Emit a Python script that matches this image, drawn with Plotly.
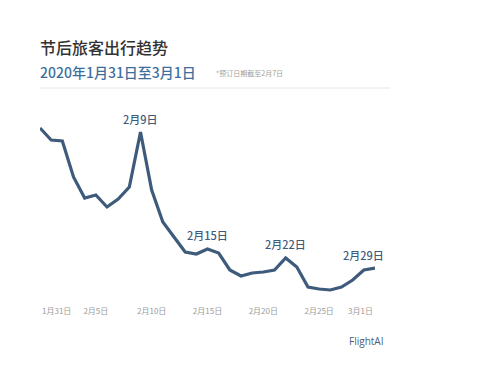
import plotly.graph_objects as go
import pandas as pd

dates = pd.date_range("2020-01-31", "2020-03-01", freq="D")
index_values = [172, 160, 159, 123, 102, 105, 93, 101, 113, 168, 110, 78, 63, 48, 46,
                51, 47, 30, 24, 27, 28, 30, 42, 33, 13, 11, 10, 13, 20, 30, 32]
tick_dates = ["2020-01-31", "2020-02-05", "2020-02-10", "2020-02-15", "2020-02-20", "2020-02-25", "2020-03-01"]
tick_labels = ["1月31日", "2月5日", "2月10日", "2月15日", "2月20日", "2月25日", "3月1日"]
callout_dates = ["2020-02-09", "2020-02-15", "2020-02-22", "2020-02-29"]
callout_labels = ["2月9日", "2月15日", "2月22日", "2月29日"]

line_color = "#3f5b7c"
font = "Noto Sans CJK SC"

# page body has an 8px margin; figure is sized to fit the window
OFF = 8
W, H = 477 - OFF, 373 - OFF
L, T = 40 - OFF, 100 - OFF           # plot area left/top in figure px
PW, PH = 375 - 40, 295 - 100          # plot area size
R, B = W - L - PW, H - T - PH

def px(ref_x):
    return (ref_x - 40) / PW

def py(ref_y):
    return (295 - ref_y) / PH

fig = go.Figure()
fig.add_trace(go.Scatter(x=dates, y=index_values, mode="lines",
                         line=dict(color=line_color, width=3.2), hoverinfo="skip"))

val_by_date = dict(zip([d.strftime("%Y-%m-%d") for d in dates], index_values))
offsets = [3, 4, 4, 5]
for d, lab, off in zip(callout_dates, callout_labels, offsets):
    fig.add_annotation(x=d, y=val_by_date[d], text=lab, showarrow=False, xref="x", yref="y",
                       yshift=off, yanchor="bottom",
                       font=dict(family=font, size=11, color=line_color, weight=500))

# end tick labels clamped inside the plot
fig.add_annotation(x=tick_dates[0], y=0, xref="x", yref="paper", yshift=-8, text=tick_labels[0],
                   showarrow=False, xanchor="left", yanchor="top",
                   font=dict(family=font, size=8, color="#9a9a9a"))
fig.add_annotation(x=tick_dates[-1], y=0, xref="x", yref="paper", yshift=-8, text=tick_labels[-1],
                   showarrow=False, xanchor="right", yanchor="top",
                   font=dict(family=font, size=8, color="#9a9a9a"))

fig.update_layout(
    width=W, height=H,
    margin=dict(l=L, r=R, t=T, b=B),
    paper_bgcolor="white", plot_bgcolor="white",
    showlegend=False,
    xaxis=dict(range=["2020-01-31", "2020-03-01"], showgrid=False, zeroline=False, showline=False,
               tickvals=tick_dates[1:-1], ticktext=tick_labels[1:-1], ticks="",
               tickfont=dict(family=font, size=8, color="#9a9a9a"), ticklabelstandoff=10),
    yaxis=dict(range=[5, 200], visible=False),
)

fig.add_annotation(x=px(38), y=py(47), xref="paper", yref="paper", text="节后旅客出行趋势",
                   showarrow=False, xanchor="left", yanchor="middle",
                   font=dict(family=font, size=16, color="#333333", weight=500))
fig.add_annotation(x=px(38), y=py(72), xref="paper", yref="paper",
                   text="2020年1月31日至3月1日",
                   showarrow=False, xanchor="left", yanchor="middle",
                   font=dict(family=font, size=14, color="#3d6f9e", weight=500))
fig.add_annotation(x=px(214), y=py(73), xref="paper", yref="paper", text="*预订日期截至2月7日",
                   showarrow=False, xanchor="left", yanchor="middle",
                   font=dict(family=font, size=7, color="#a0a0a0"))
fig.add_annotation(x=px(385), y=py(341), xref="paper", yref="paper", text="FlightAI",
                   showarrow=False, xanchor="right", yanchor="middle",
                   font=dict(family="Open Sans", size=10, color="#4a5f7a"))
fig.add_shape(type="line", xref="paper", yref="paper", x0=px(40), x1=px(390), y0=py(88), y1=py(88),
              line=dict(color="#e6e6e6", width=1))

fig.write_html("out.html")
